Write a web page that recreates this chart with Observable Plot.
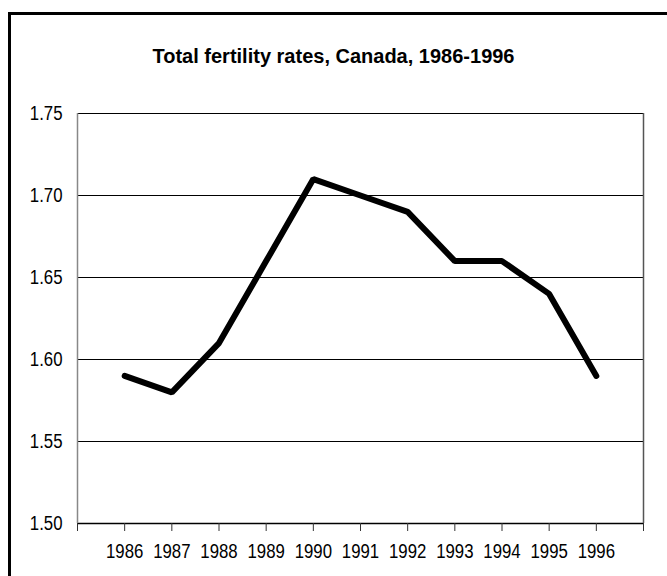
<!DOCTYPE html>
<html>
<head>
<meta charset="utf-8">
<script src="https://cdn.jsdelivr.net/npm/d3@7"></script>
<script src="https://cdn.jsdelivr.net/npm/@observablehq/plot@0.6"></script>
<style>
  html, body { margin: 0; padding: 0; background: #fff; overflow: hidden; }
  #wrap { position: relative; width: 667px; height: 576px; overflow: hidden; background: #fff; }
  #frameTop { position: absolute; left: 8px; top: 12px; width: 659px; height: 3px; background: #000; }
  #frameLeft { position: absolute; left: 8px; top: 12px; width: 3px; height: 564px; background: #000; }
  #cover { position: absolute; left: 652px; top: 15px; width: 15px; height: 561px; background: #fff; }
  #title { position: absolute; left: 0; width: 667px; top: 46px; text-align: center; line-height: 20px;
           font-family: "Liberation Sans", Arial, sans-serif; font-weight: bold; font-size: 20px; color: #000; }
  #chart { position: absolute; left: 0; top: 0; }
</style>
</head>
<body>
<div id="wrap">
  <div id="chart"></div>
  <div id="cover"></div>
  <div id="frameTop"></div>
  <div id="frameLeft"></div>
  <div id="title">Total fertility rates, Canada, 1986-1996</div>
</div>
<script>
const years = [1986, 1987, 1988, 1989, 1990, 1991, 1992, 1993, 1994, 1995, 1996];
const rates = [1.59, 1.58, 1.61, 1.66, 1.71, 1.70, 1.69, 1.66, 1.66, 1.64, 1.59];
const yTicks = [1.50, 1.55, 1.60, 1.65, 1.70, 1.75];
const xTicks = [1985, 1986, 1987, 1988, 1989, 1990, 1991, 1992, 1993, 1994, 1995, 1996, 1997];

const data = years.map((y, i) => ({year: y, rate: rates[i]}));

const font = '"Liberation Sans", Arial, sans-serif';

const chart = Plot.plot({
  width: 667,
  height: 576,
  marginLeft: 77,
  marginRight: 24,
  marginTop: 113,
  marginBottom: 53,
  style: {fontFamily: font, fontSize: "21px", color: "#000", background: "transparent"},
  x: {domain: [1985, 1997], label: null},
  y: {domain: [1.50, 1.75], label: null},
  marks: [
    Plot.ruleY(yTicks.slice(1), {stroke: "#000", strokeWidth: 1}),
    Plot.ruleY([1.50], {stroke: "#000", strokeWidth: 1.5}),
    Plot.ruleX([1985], {stroke: "#888", strokeWidth: 1.5}),
    Plot.ruleX([1997], {stroke: "#555", strokeWidth: 1.5}),
    Plot.axisY({ticks: yTicks, tickSize: 0, tickPadding: 15, tickFormat: d => d.toFixed(2), fontSize: 21}),
    Plot.axisX({ticks: xTicks, tickSize: 8, tickPadding: 12, stroke: "#333",
      tickFormat: d => (d >= 1986 && d <= 1996) ? String(d) : "", fontSize: 21}),
    Plot.line(data, {x: "year", y: "rate", stroke: "#000", strokeWidth: 6,
      strokeLinecap: "round", strokeLinejoin: "miter"})
  ]
});

chart.querySelectorAll('g[aria-label$="tick label"] text').forEach(t => {
  const tr = t.getAttribute("transform");
  if (tr && tr.includes("translate")) {
    t.setAttribute("transform", tr + " scale(0.8,1)");
  } else {
    const x = +(t.getAttribute("x") || 0), y = +(t.getAttribute("y") || 0);
    t.removeAttribute("x"); t.removeAttribute("y");
    t.setAttribute("transform", (tr ? tr + " " : "") + `translate(${x},${y}) scale(0.8,1)`);
  }
});
document.getElementById("chart").appendChild(chart);
</script>
</body>
</html>
